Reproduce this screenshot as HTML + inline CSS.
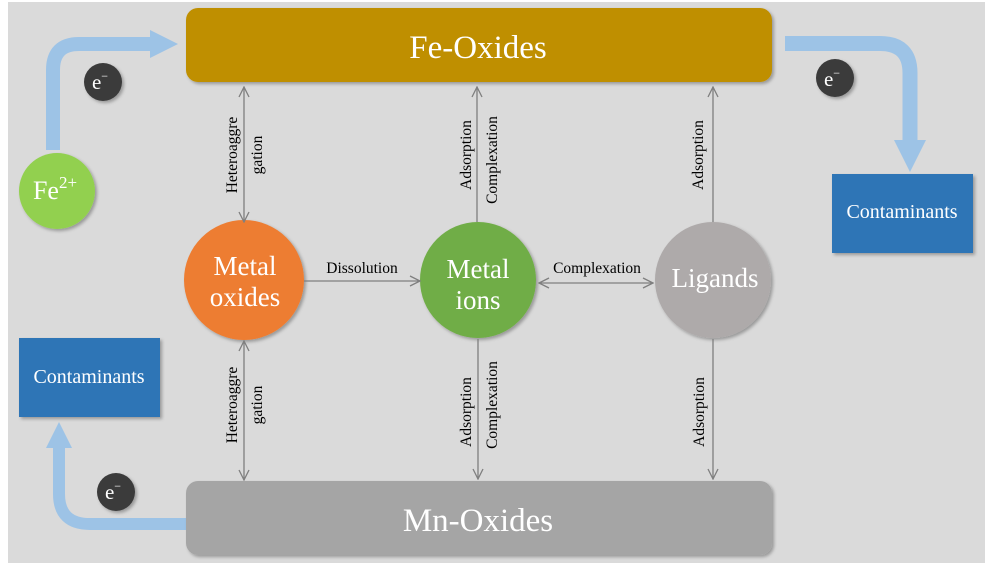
<!DOCTYPE html>
<html><head><style>html,body{margin:0;padding:0;background:#fff}svg text{font-family:"Liberation Serif","Times New Roman",serif}</style></head><body>
<svg width="1000" height="582" viewBox="0 0 1000 582" xmlns="http://www.w3.org/2000/svg">
<defs>
<filter id="sh" x="-20%" y="-20%" width="140%" height="140%"><feDropShadow dx="2" dy="2" stdDeviation="1.5" flood-color="#000" flood-opacity="0.3"/></filter>
<marker id="ah" viewBox="0 0 12 12" refX="11" refY="6" markerWidth="12" markerHeight="12" markerUnits="userSpaceOnUse" orient="auto-start-reverse"><path d="M1,1 L11,6 L1,11" fill="none" stroke="#7f7f7f" stroke-width="1.3"/></marker>
</defs>
<rect x="8" y="2" width="977" height="561" fill="#dadada"/>
<path d="M53,150 V70 Q53,44 79,44 H152" fill="none" stroke="#9dc3e6" stroke-width="14"/>
<polygon points="150,30 178,44 150,58" fill="#9dc3e6"/>
<path d="M785,43.5 H880 Q910,43.5 910,73 V142" fill="none" stroke="#9dc3e6" stroke-width="15"/>
<polygon points="894,140 926,140 910,172" fill="#9dc3e6"/>
<path d="M186,524 H90 Q59,524 59,494 V446" fill="none" stroke="#9dc3e6" stroke-width="12"/>
<polygon points="46,448 72,448 59,422" fill="#9dc3e6"/>
<rect x="186" y="8" width="586" height="74" rx="12" fill="#bf8f00" filter="url(#sh)"/>
<text x="478" y="58" font-size="33" fill="#fff" text-anchor="middle">Fe-Oxides</text>
<rect x="186" y="481" width="586" height="74" rx="12" fill="#a5a5a5" filter="url(#sh)"/>
<text x="478" y="531" font-size="33" fill="#fff" text-anchor="middle">Mn-Oxides</text>
<rect x="832" y="174" width="141" height="79" fill="#2e75b6" filter="url(#sh)"/>
<text x="902" y="218" font-size="20" fill="#fff" text-anchor="middle">Contaminants</text>
<rect x="19" y="338" width="141" height="79" fill="#2e75b6" filter="url(#sh)"/>
<text x="89" y="383" font-size="20" fill="#fff" text-anchor="middle">Contaminants</text>
<circle cx="57" cy="191" r="38" fill="#92d050" filter="url(#sh)"/>
<text x="55" y="199" font-size="26" fill="#fff" text-anchor="middle">Fe<tspan font-size="17" dy="-11">2+</tspan></text>
<g filter="url(#sh)"><circle cx="103" cy="82" r="19" fill="#3a3a3a"/><circle cx="835" cy="78" r="19" fill="#3a3a3a"/><circle cx="116" cy="492" r="19" fill="#3a3a3a"/></g>
<text x="100" y="89" font-size="21" fill="#fff" text-anchor="middle">e<tspan font-size="12" dy="-9">−</tspan></text>
<text x="832" y="86" font-size="21" fill="#fff" text-anchor="middle">e<tspan font-size="12" dy="-9">−</tspan></text>
<text x="113" y="499" font-size="21" fill="#fff" text-anchor="middle">e<tspan font-size="12" dy="-9">−</tspan></text>
<circle cx="244" cy="280" r="60" fill="#ed7d31" filter="url(#sh)"/>
<text x="245" y="275" font-size="27" fill="#fff" text-anchor="middle">Metal</text>
<text x="245" y="306" font-size="27" fill="#fff" text-anchor="middle">oxides</text>
<circle cx="478" cy="280" r="58" fill="#70ad47" filter="url(#sh)"/>
<text x="478" y="278" font-size="27" fill="#fff" text-anchor="middle">Metal</text>
<text x="478" y="309" font-size="27" fill="#fff" text-anchor="middle">ions</text>
<circle cx="713" cy="280" r="58" fill="#aeaaaa" filter="url(#sh)"/>
<text x="715" y="287" font-size="27" fill="#fff" text-anchor="middle">Ligands</text>
<g stroke="#7f7f7f" stroke-width="1.3" fill="none">
<line x1="244" y1="87" x2="244" y2="222" marker-start="url(#ah)" marker-end="url(#ah)"/>
<line x1="244" y1="341" x2="244" y2="480" marker-start="url(#ah)" marker-end="url(#ah)"/>
<line x1="477" y1="222" x2="477" y2="87" marker-end="url(#ah)"/>
<line x1="478" y1="339" x2="478" y2="479" marker-end="url(#ah)"/>
<line x1="713" y1="222" x2="713" y2="87" marker-end="url(#ah)"/>
<line x1="713" y1="339" x2="713" y2="479" marker-end="url(#ah)"/>
<line x1="304" y1="281" x2="420" y2="281" marker-end="url(#ah)"/>
<line x1="539" y1="283" x2="653" y2="283" marker-start="url(#ah)" marker-end="url(#ah)"/>
</g>
<g font-size="15.5" fill="#000" text-anchor="middle">
<text x="362" y="273">Dissolution</text>
<text x="597" y="273">Complexation</text>
<text transform="translate(237,155) rotate(-90)">Heteroaggre</text>
<text transform="translate(262,155) rotate(-90)">gation</text>
<text transform="translate(237,405) rotate(-90)">Heteroaggre</text>
<text transform="translate(262,405) rotate(-90)">gation</text>
<text transform="translate(471,155) rotate(-90)">Adsorption</text>
<text transform="translate(497,160) rotate(-90)">Complexation</text>
<text transform="translate(471,412) rotate(-90)">Adsorption</text>
<text transform="translate(497,405) rotate(-90)">Complexation</text>
<text transform="translate(703,155) rotate(-90)">Adsorption</text>
<text transform="translate(704,412) rotate(-90)">Adsorption</text>
</g>
</svg>
</body></html>
